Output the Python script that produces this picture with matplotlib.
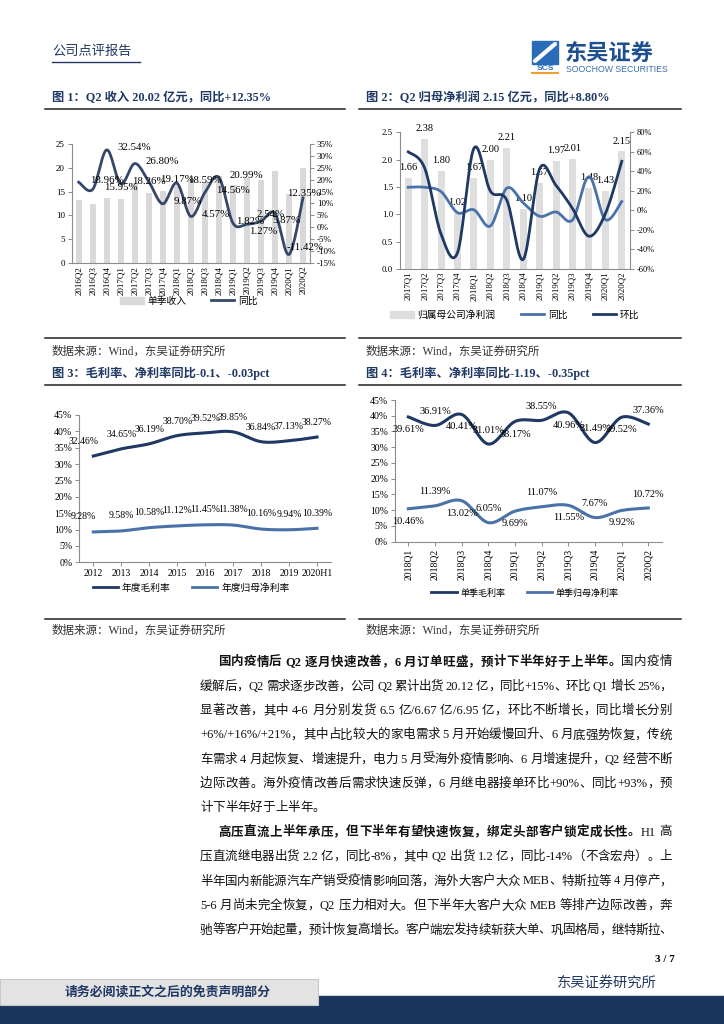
import matplotlib
matplotlib.use('Agg')
import matplotlib.pyplot as plt
import numpy as np
from matplotlib.patches import Rectangle, Patch
from matplotlib.lines import Line2D

plt.rcParams['font.family'] = ['Liberation Serif', 'Noto Sans CJK SC', 'DejaVu Sans']
plt.rcParams['axes.unicode_minus'] = False

# ---- data ----
c1_quarters = ['2016Q2', '2016Q3', '2016Q4', '2017Q1', '2017Q2', '2017Q3', '2017Q4', '2018Q1',
               '2018Q2', '2018Q3', '2018Q4', '2019Q1', '2019Q2', '2019Q3', '2019Q4', '2020Q1', '2020Q2']
c1_revenue = [13.3, 12.4, 13.7, 13.5, 16.8, 14.8, 15.1, 16.1, 17.6, 17.0, 18.3, 16.4, 17.8, 17.4, 19.4, 14.5, 20.0]
c1_yoy = [18.96, 15.95, 32.54, 18.26, 26.80, 19.17, 9.87, 18.59, 4.57, 14.56, 20.99, 1.82, 1.27, 2.54, 5.87, -11.42, 12.35]

c2_quarters = ['2017Q1', '2017Q2', '2017Q3', '2017Q4', '2018Q1', '2018Q2', '2018Q3', '2018Q4',
               '2019Q1', '2019Q2', '2019Q3', '2019Q4', '2020Q1', '2020Q2']
c2_profit = [1.66, 2.38, 1.80, 1.02, 1.67, 2.00, 2.21, 1.10, 1.57, 1.97, 2.01, 1.48, 1.43, 2.15]
c2_yoy = [23.7, 23.7, 19.2, -2.3, 0.6, -16.0, 22.8, 7.8, -6.0, -1.6, -9.8, 34.5, -9.4, 9.1]
c2_qoq = [60.0, 43.4, -24.4, -43.3, 63.7, 19.8, 10.5, -50.2, 42.7, 25.5, 2.0, -26.4, -3.4, 50.3]

c3_years = ['2012', '2013', '2014', '2015', '2016', '2017', '2018', '2019', '2020H1']
c3_gross = [32.46, 34.65, 36.19, 38.70, 39.52, 39.85, 36.84, 37.13, 38.27]
c3_net = [9.28, 9.58, 10.58, 11.12, 11.45, 11.38, 10.16, 9.94, 10.39]

c4_quarters = ['2018Q1', '2018Q2', '2018Q3', '2018Q4', '2019Q1', '2019Q2', '2019Q3', '2019Q4', '2020Q1', '2020Q2']
c4_gross = [39.61, 36.91, 40.41, 31.01, 38.17, 38.55, 40.96, 31.49, 39.52, 37.36]
c4_net = [10.46, 11.39, 13.02, 6.05, 9.69, 11.07, 11.55, 7.67, 9.92, 10.72]

titles = ['图 1：Q2 收入 20.02 亿元，同比+12.35%',
          '图 2：Q2 归母净利润 2.15 亿元，同比+8.80%',
          '图 3：毛利率、净利率同比-0.1、-0.03pct',
          '图 4：毛利率、净利率同比-1.19、-0.35pct']
source = '数据来源：Wind，东吴证券研究所'

para1 = [
    [('国内疫情后 Q2 逐月快速改善，6 月订单旺盛，预计下半年好于上半年。', True), ('国内疫情', False)],
    [('缓解后，Q2 需求逐步改善，公司 Q2 累计出货 20.12 亿，同比+15%、环比 Q1 增长 25%，', False)],
    [('显著改善，其中 4-6 月分别发货 6.5 亿/6.67 亿/6.95 亿，环比不断增长，同比增长分别', False)],
    [('+6%/+16%/+21%，其中占比较大的家电需求 5 月开始缓慢回升、6 月底强势恢复，传统', False)],
    [('车需求 4 月起恢复、增速提升，电力 5 月受海外疫情影响、6 月增速提升，Q2 经营不断', False)],
    [('边际改善。海外疫情改善后需求快速反弹，6 月继电器接单环比+90%、同比+93%，预', False)],
    [('计下半年好于上半年。', False)],
]
para2 = [
    [('高压直流上半年承压，但下半年有望快速恢复，绑定头部客户锁定成长性。', True), ('H1 高', False)],
    [('压直流继电器出货 2.2 亿，同比-8%，其中 Q2 出货 1.2 亿，同比-14%（不含宏舟）。上', False)],
    [('半年国内新能源汽车产销受疫情影响回落，海外大客户大众 MEB、特斯拉等 4 月停产，', False)],
    [('5-6 月尚未完全恢复，Q2 压力相对大。但下半年大客户大众 MEB 等排产边际改善，奔', False)],
    [('驰等客户开始起量，预计恢复高增长。客户端宏发持续斩获大单、巩固格局，继特斯拉、', False)],
]

NAVY = '#1f3864'
MID = '#4a72a8'
AXC = '#8c8c8c'
W, H = 724, 1024

fig = plt.figure(figsize=(7.24, 10.24), dpi=100)


def fx(x):
    return x / W


def fy(y):
    return 1 - y / H


def add_ax(l, t, r, b):
    return fig.add_axes([fx(l), fy(b), (r - l) / W, (b - t) / H])


def smooth(vals, n=16):
    # Bezier smoothing like a spreadsheet "smoothed line"
    y = np.asarray(vals, dtype=float)
    pts = np.column_stack([np.arange(len(y), dtype=float), y])
    pad = np.vstack([pts[0], pts, pts[-1]])
    t = np.linspace(0, 1, n, endpoint=False)[:, None]
    segs = []
    for i in range(len(pts) - 1):
        p0, p1, p2, p3 = pad[i], pad[i + 1], pad[i + 2], pad[i + 3]
        c1 = p1 + (p2 - p0) / 6
        c2 = p2 - (p3 - p1) / 6
        segs.append((1 - t) ** 3 * p1 + 3 * (1 - t) ** 2 * t * c1 + 3 * (1 - t) * t ** 2 * c2 + t ** 3 * p2)
    segs.append(pts[-1:])
    res = np.vstack(segs)
    return res[:, 0], res[:, 1]


def style(ax, sides, size=6.5):
    for s in ['top', 'bottom', 'left', 'right']:
        ax.spines[s].set_visible(s in sides)
        ax.spines[s].set_color(AXC)
        ax.spines[s].set_linewidth(0.8)
    ax.tick_params(direction='out', length=3, width=0.7, color=AXC, labelsize=size, pad=2)


def pct(v, p):
    return f'{v:.0f}%'


# ---- chart 1 ----
ax1 = add_ax(71.7, 144, 310, 263)
x1 = np.arange(len(c1_quarters))
ax1.bar(x1, c1_revenue, width=0.45, color='#d9d9d9', zorder=1)
ax1.set_ylim(0, 25)
ax1.set_yticks(range(0, 26, 5))
ax1.set_xlim(-0.5, len(x1) - 0.5)
ax1.set_xticks(x1)
ax1.set_xticklabels(c1_quarters, rotation=90, fontsize=5.8)
style(ax1, ['left', 'bottom'])
ax1.tick_params(axis='x', length=0)
ax1b = ax1.twinx()
xs, ys = smooth(c1_yoy)
ax1b.plot(xs, ys, color='#34496a', lw=2.0)
ax1b.set_ylim(-15, 35)
ax1b.set_yticks(range(-15, 36, 5))
ax1b.yaxis.set_major_formatter(pct)
style(ax1b, ['right'])
c1_off = [(8, 1.5)] * 11 + [(2, 1), (1.5, -5), (-3, 5), (-2, -5), (-1.5, 5), (-11.5, 3.5)]
for i, v in enumerate(c1_yoy):
    ax1b.annotate(f'{v:.2f}%', (i, v), xytext=c1_off[i], textcoords='offset points',
                  ha='left', va='center', fontsize=7.8)
ax1.legend([Patch(color='#d9d9d9'), Line2D([], [], color='#34496a', lw=2)], ['单季收入', '同比'],
           ncol=2, frameon=False, fontsize=7, loc='center', bbox_to_anchor=(fx(189), fy(301)),
           bbox_transform=fig.transFigure, handlelength=2.4, columnspacing=2.5, handletextpad=0.4)

# ---- chart 2 ----
ax2 = add_ax(400, 132.3, 630, 269)
x2 = np.arange(len(c2_quarters))
ax2.bar(x2, c2_profit, width=0.42, color='#dedede')
ax2.set_ylim(0, 2.5)
ax2.set_yticks(np.arange(0, 2.51, 0.5))
ax2.yaxis.set_major_formatter(lambda v, p: f'{v:.1f}')
ax2.set_xlim(-0.5, len(x2) - 0.5)
ax2.set_xticks(x2)
ax2.set_xticklabels(c2_quarters, rotation=90, fontsize=5.8)
style(ax2, ['left', 'bottom'], 6.3)
ax2.tick_params(axis='x', length=0)
for i, v in enumerate(c2_profit):
    ax2.annotate(f'{v:.2f}', (i, v), xytext=(0, 7.5), textcoords='offset points',
                 ha='center', va='center', fontsize=7.5)
ax2b = ax2.twinx()
xs, ys = smooth(c2_yoy)
ax2b.plot(xs, ys, color=MID, lw=2.0)
xs, ys = smooth(c2_qoq)
ax2b.plot(xs, ys, color=NAVY, lw=2.0)
ax2b.set_ylim(-60, 80)
ax2b.set_yticks(range(-60, 81, 20))
ax2b.yaxis.set_major_formatter(pct)
style(ax2b, ['right'], 6.0)
ax2.legend([Patch(color='#dedede'), Line2D([], [], color=MID, lw=2), Line2D([], [], color=NAVY, lw=2)],
           ['归属母公司净利润', '同比', '环比'], ncol=3, frameon=False, fontsize=7, loc='center',
           bbox_to_anchor=(fx(515), fy(315)), bbox_transform=fig.transFigure,
           handlelength=2.4, columnspacing=2.6, handletextpad=0.4)

# ---- chart 3 ----
ax3 = add_ax(79.3, 415, 331, 562.3)
x3 = np.arange(len(c3_years))
xs, ys = smooth(c3_gross)
ax3.plot(xs, ys, color=NAVY, lw=2.2)
xs, ys = smooth(c3_net)
ax3.plot(xs, ys, color=MID, lw=2.2)
ax3.set_ylim(0, 45)
ax3.set_yticks(range(0, 46, 5))
ax3.yaxis.set_major_formatter(pct)
ax3.set_xlim(-0.5, len(x3) - 0.5)
ax3.set_xticks(x3)
ax3.set_xticklabels(c3_years, fontsize=6.8)
style(ax3, ['left', 'bottom'], 7)
for i in range(len(x3)):
    dx = -7 if i == 0 else 0
    ax3.annotate(f'{c3_gross[i]:.2f}%', (i, c3_gross[i]), xytext=(dx, 10.5), textcoords='offset points',
                 ha='center', va='center', fontsize=7)
    ax3.annotate(f'{c3_net[i]:.2f}%', (i, c3_net[i]), xytext=(dx, 11), textcoords='offset points',
                 ha='center', va='center', fontsize=7)
ax3.legend([Line2D([], [], color=NAVY, lw=2), Line2D([], [], color=MID, lw=2)], ['年度毛利率', '年度归母净利率'],
           ncol=2, frameon=False, fontsize=7, loc='center', bbox_to_anchor=(fx(191), fy(588)),
           bbox_transform=fig.transFigure, handlelength=2.6, columnspacing=2.2, handletextpad=0.4)

# ---- chart 4 ----
ax4 = add_ax(395, 400, 661.6, 541.7)
x4 = np.arange(len(c4_quarters))
xs, ys = smooth(c4_gross)
ax4.plot(xs, ys, color=NAVY, lw=2.2)
xs, ys = smooth(c4_net)
ax4.plot(xs, ys, color=MID, lw=2.2)
ax4.set_ylim(0, 45)
ax4.set_yticks(range(0, 46, 5))
ax4.yaxis.set_major_formatter(pct)
ax4.set_xlim(-0.5, len(x4) - 0.5)
ax4.set_xticks(x4)
ax4.set_xticklabels(c4_quarters, rotation=90, fontsize=6.3)
style(ax4, ['left', 'bottom'], 7)
for i in range(len(x4)):
    dy = 10 if i % 2 else -9
    ax4.annotate(f'{c4_gross[i]:.2f}%', (i, c4_gross[i]), xytext=(0, dy), textcoords='offset points',
                 ha='center', va='center', fontsize=7.4)
    ax4.annotate(f'{c4_net[i]:.2f}%', (i, c4_net[i]), xytext=(0, dy), textcoords='offset points',
                 ha='center', va='center', fontsize=7.4)
ax4.legend([Line2D([], [], color=NAVY, lw=2), Line2D([], [], color=MID, lw=2)], ['单季毛利率', '单季归母净利率'],
           ncol=2, frameon=False, fontsize=6.5, loc='center', bbox_to_anchor=(fx(525), fy(593)),
           bbox_transform=fig.transFigure, handlelength=2.8, columnspacing=2.4, handletextpad=0.4)

# ---- titles, rules, sources ----
for (tx, ty), t in zip([(52, 98), (366, 98), (52, 373), (366, 373)], titles):
    fig.text(fx(tx), fy(ty), t, fontsize=8.8, fontweight='bold', color=NAVY, va='center', ha='left')
for y in [109, 338, 385, 619]:
    fig.add_artist(Line2D([fx(45), fx(345)], [fy(y), fy(y)], color='#222222', lw=1.1))
    fig.add_artist(Line2D([fx(359), fx(681)], [fy(y), fy(y)], color='#222222', lw=1.1))
for tx, ty in [(52, 351.5), (366, 351.5), (52, 631), (366, 631)]:
    fig.text(fx(tx), fy(ty), source, fontsize=8.3, color='#333333', va='center', ha='left')

# ---- header ----
fig.text(fx(52), fy(52), '公司点评报告', fontsize=9.5, color=NAVY, va='center', ha='left')
fig.add_artist(Line2D([fx(52), fx(140)], [fy(62), fy(62)], color=NAVY, lw=1))
fig.add_artist(Rectangle((fx(532), fy(64)), 26 / W, 23 / H, color='#2a6cb8'))
fig.add_artist(Line2D([fx(535), fx(555)], [fy(61), fy(44)], color='white', lw=3, solid_capstyle='round'))
fig.text(fx(545), fy(68), 'SCS', fontsize=6, fontweight='bold', color='#2a6cb8', family='Liberation Sans',
         va='center', ha='center')
fig.add_artist(Line2D([fx(532), fx(558)], [fy(72.5), fy(72.5)], color='#f0a030', lw=1.5))
fig.text(fx(565), fy(53), '东吴证券', fontsize=16, fontweight='bold', color='#1d4f91',
         family='Noto Sans CJK SC', va='center', ha='left')
fig.text(fx(566), fy(69), 'SOOCHOW SECURITIES', fontsize=6.3, color='#3a6fb0', family='Liberation Sans',
         va='center', ha='left')

# ---- footer ----
fig.add_artist(Rectangle((0, 0), 1, 28 / H, color='#1b365d'))
fig.add_artist(Rectangle((0, fy(1005)), 318 / W, 26 / H, facecolor='#e3e3e3', edgecolor='#c8c8c8', lw=0.8))
fig.text(fx(168), fy(992), '请务必阅读正文之后的免责声明部分', fontsize=9.3, fontweight='bold', color=NAVY,
         va='center', ha='center')
fig.text(fx(557), fy(983), '东吴证券研究所', fontsize=10.3, color=NAVY, va='center', ha='left')
fig.text(fx(675), fy(960), '3 / 7', fontsize=8, fontweight='bold', color='black', va='center', ha='right')

# ---- body text (justified) ----
renderer = fig.canvas.get_renderer()
FS = 9.0
EM = FS * 100 / 72


def split_tokens(text):
    toks, buf = [], ''
    for ch in text:
        if ord(ch) < 128 and ch != ' ':
            buf += ch
        else:
            if buf:
                toks.append(buf)
                buf = ''
            toks.append(ch)
    if buf:
        toks.append(buf)
    return toks


def draw_line(segments, x0, x1, y, justify):
    items = []
    for text, bold in segments:
        for tok in split_tokens(text):
            if tok == ' ':
                items.append((None, EM * 0.25))
                continue
            t = fig.text(0, 0, tok, fontsize=FS, fontweight='bold' if bold else 'normal',
                         color='#111111', va='center_baseline', ha='left')
            if ord(tok[0]) < 128:
                w = t.get_window_extent(renderer).width
            else:
                w = EM
            items.append((t, w))
    total = sum(w for _, w in items)
    gap = (x1 - x0 - total) / (len(items) - 1) if justify and len(items) > 1 else 0
    x = x0
    for t, w in items:
        if t is not None:
            t.set_position((fx(x), fy(y)))
        x += w + gap


def draw_para(lines, y0, step):
    for k, segs in enumerate(lines):
        x0 = 218 if k == 0 else 200
        last = (k == len(lines) - 1) and lines is para1
        draw_line(segs, x0, 672, y0 + k * step, not last)


draw_para(para1, 661, 24.3)
draw_para(para2, 831, 24.5)

fig.savefig('out.png', dpi=100)
